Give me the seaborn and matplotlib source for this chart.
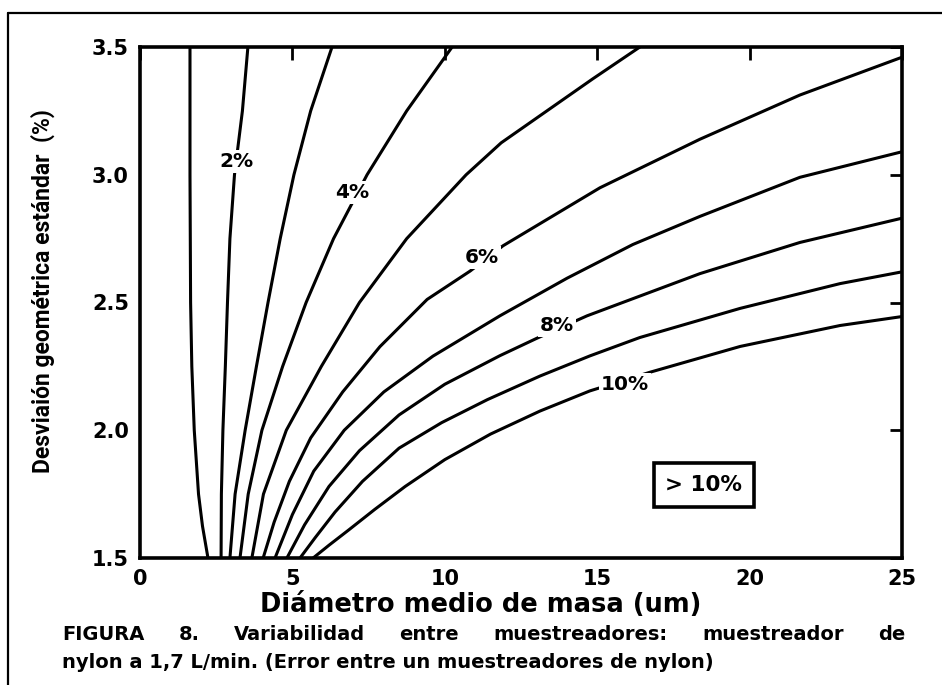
import matplotlib
matplotlib.use("Agg")
import matplotlib.pyplot as plt
from matplotlib.lines import Line2D
import pandas as pd
import seaborn as sns

sns.set_theme(style="white")
plt.rcParams["font.family"] = ["DejaVu Sans"]
plt.rcParams["text.color"] = "black"
plt.rcParams["xtick.color"] = "black"
plt.rcParams["ytick.color"] = "black"

# Isolíneas de variabilidad: diámetro medio de masa (um) vs desviación geométrica estándar
x_2izq = [1.64, 1.64, 1.66, 1.70, 1.78, 1.92, 2.05, 2.23]
y_2izq = [3.50, 3.00, 2.50, 2.25, 2.00, 1.75, 1.625, 1.50]

x_2 = [3.54, 3.36, 3.10, 2.95, 2.87, 2.80, 2.72, 2.67, 2.66]
y_2 = [3.50, 3.25, 3.00, 2.75, 2.50, 2.25, 2.00, 1.75, 1.50]

x_3 = [6.30, 5.60, 5.05, 4.60, 4.20, 3.82, 3.45, 3.12, 2.95]
y_3 = [3.50, 3.25, 3.00, 2.75, 2.50, 2.25, 2.00, 1.75, 1.50]

x_4 = [10.24, 8.75, 7.45, 6.35, 5.45, 4.68, 4.00, 3.55, 3.28]
y_4 = [3.50, 3.25, 3.00, 2.75, 2.50, 2.25, 2.00, 1.75, 1.50]

x_5 = [16.40, 14.85, 13.35, 11.85, 10.70, 8.75, 7.20, 5.95, 4.80, 4.05, 3.67]
y_5 = [3.50, 3.375, 3.25, 3.125, 3.00, 2.75, 2.50, 2.25, 2.00, 1.75, 1.50]

x_6 = [25.0, 21.65, 18.37, 15.09, 11.91, 10.83, 9.42, 7.87, 6.65, 5.60, 4.90, 4.40, 4.04]
y_6 = [3.46, 3.312, 3.139, 2.949, 2.722, 2.623, 2.512, 2.327, 2.15, 1.97, 1.80, 1.64, 1.50]

x_7 = [25.0, 21.65, 18.37, 16.17, 14.01, 11.81, 9.61, 8.00, 6.70, 5.70, 5.00, 4.43]
y_7 = [3.09, 2.990, 2.837, 2.727, 2.595, 2.448, 2.290, 2.15, 2.00, 1.84, 1.67, 1.50]

x_8 = [25.0, 21.65, 18.37, 14.67, 13.02, 11.81, 10.00, 8.50, 7.20, 6.20, 5.40, 4.82]
y_8 = [2.83, 2.735, 2.613, 2.448, 2.360, 2.292, 2.18, 2.06, 1.92, 1.78, 1.63, 1.50]

x_9 = [25.0, 22.97, 19.69, 16.40, 14.76, 13.12, 11.40, 9.90, 8.50, 7.30, 6.40, 5.75, 5.25]
y_9 = [2.62, 2.574, 2.477, 2.363, 2.291, 2.212, 2.12, 2.03, 1.93, 1.80, 1.68, 1.58, 1.50]

x_10 = [25.0, 22.97, 19.69, 16.73, 14.76, 13.12, 11.50, 10.00, 8.70, 7.70, 6.85, 6.20, 5.68]
y_10 = [2.445, 2.410, 2.328, 2.227, 2.154, 2.075, 1.985, 1.885, 1.78, 1.69, 1.61, 1.55, 1.50]

curvas = {
    "2% izq": (x_2izq, y_2izq), "2%": (x_2, y_2), "3%": (x_3, y_3),
    "4%": (x_4, y_4), "5%": (x_5, y_5), "6%": (x_6, y_6), "7%": (x_7, y_7),
    "8%": (x_8, y_8), "9%": (x_9, y_9), "10%": (x_10, y_10),
}

# Rótulos de las isolíneas
rotulos = ["2%", "4%", "6%", "8%", "10%"]
rotulo_x = [3.18, 6.96, 11.22, 13.68, 15.91]
rotulo_y = [3.05, 2.93, 2.675, 2.41, 2.18]

x_ticks = [0, 5, 10, 15, 20, 25]
y_ticks = [1.5, 2.0, 2.5, 3.0, 3.5]
y_tick_labels = ["1.5", "2.0", "2.5", "3.0", "3.5"]

filas = []
for nombre, (xs, ys) in curvas.items():
    for orden, (xv, yv) in enumerate(zip(xs, ys)):
        filas.append({"nivel": nombre, "orden": orden, "dmm": xv, "dge": yv})
df = pd.DataFrame(filas)

W, H = 942, 685
fig = plt.figure(figsize=(W / 100, H / 100), dpi=100)
fig.patch.set_facecolor("white")
ax = fig.add_axes([140 / W, 1 - 558 / H, 762 / W, 511 / H])
ax.set_facecolor("white")

sns.lineplot(data=df, x="dmm", y="dge", units="nivel", estimator=None,
             sort=False, color="black", linewidth=2.2, legend=False, ax=ax)

ax.set_xlim(0, 25)
ax.set_ylim(1.5, 3.5)
ax.set_xlabel("")
ax.set_ylabel("")
fuente_ticks = dict(fontsize=15, fontweight="bold")
ax.set_xticks(x_ticks)
ax.set_xticklabels([str(t) for t in x_ticks], **fuente_ticks)
ax.set_yticks(y_ticks)
ax.set_yticklabels(y_tick_labels, **fuente_ticks)
ax.tick_params(direction="in", length=9, width=2, top=True, right=True,
               colors="black", pad=8)
for s in ax.spines.values():
    s.set_visible(True)
    s.set_color("black")
    s.set_linewidth(2.6)

for t, xv, yv in zip(rotulos, rotulo_x, rotulo_y):
    ax.text(xv, yv, t, ha="center", va="center", fontsize=14.5, fontweight="bold",
            bbox=dict(facecolor="white", edgecolor="none", pad=1.5), zorder=5)

ax.text(18.5, 1.786, "> 10%", ha="center", va="center", fontsize=15.5,
        fontweight="bold", zorder=5,
        bbox=dict(boxstyle="square,pad=0.55", facecolor="white",
                  edgecolor="black", linewidth=2.6))

fig.text(43 / W, 1 - 291 / H, "Desviaión geométrica estándar  (%)",
         rotation=90, ha="center", va="center", fontsize=16.5, fontweight="bold",
         family=["Roboto", "DejaVu Sans"])

fig.text(481 / W, 1 - 605 / H, "Diámetro medio de masa (um)", ha="center",
         va="center", fontsize=18.5, fontweight="bold")


def linea_justificada(palabras, x0, x1, y, **kw):
    r = fig.canvas.get_renderer()
    arts = [fig.text(0, y / H, p, ha="left", va="center", **kw) for p in palabras]
    anchos = [a.get_window_extent(r).width for a in arts]
    hueco = ((x1 - x0) - sum(anchos)) / (len(palabras) - 1)
    pos = x0
    for a, w in zip(arts, anchos):
        a.set_x(pos / W)
        pos += w + hueco


estilo = dict(fontsize=14, fontweight="bold")
linea_justificada(["FIGURA", "8.", "Variabilidad", "entre", "muestreadores:",
                   "muestreador", "de"], 62, 905, H - 635, **estilo)
fig.text(62 / W, 1 - 663 / H,
         "nylon a 1,7 L/min. (Error entre un muestreadores de nylon)",
         ha="left", va="center", **estilo)

# marco exterior
fig.add_artist(Line2D([8 / W, 1], [1 - 13 / H, 1 - 13 / H], color="black",
                      linewidth=1.6, transform=fig.transFigure))
fig.add_artist(Line2D([8 / W, 8 / W], [0, 1 - 13 / H], color="black",
                      linewidth=1.6, transform=fig.transFigure))

fig.savefig("out.png", dpi=100, facecolor="white")
